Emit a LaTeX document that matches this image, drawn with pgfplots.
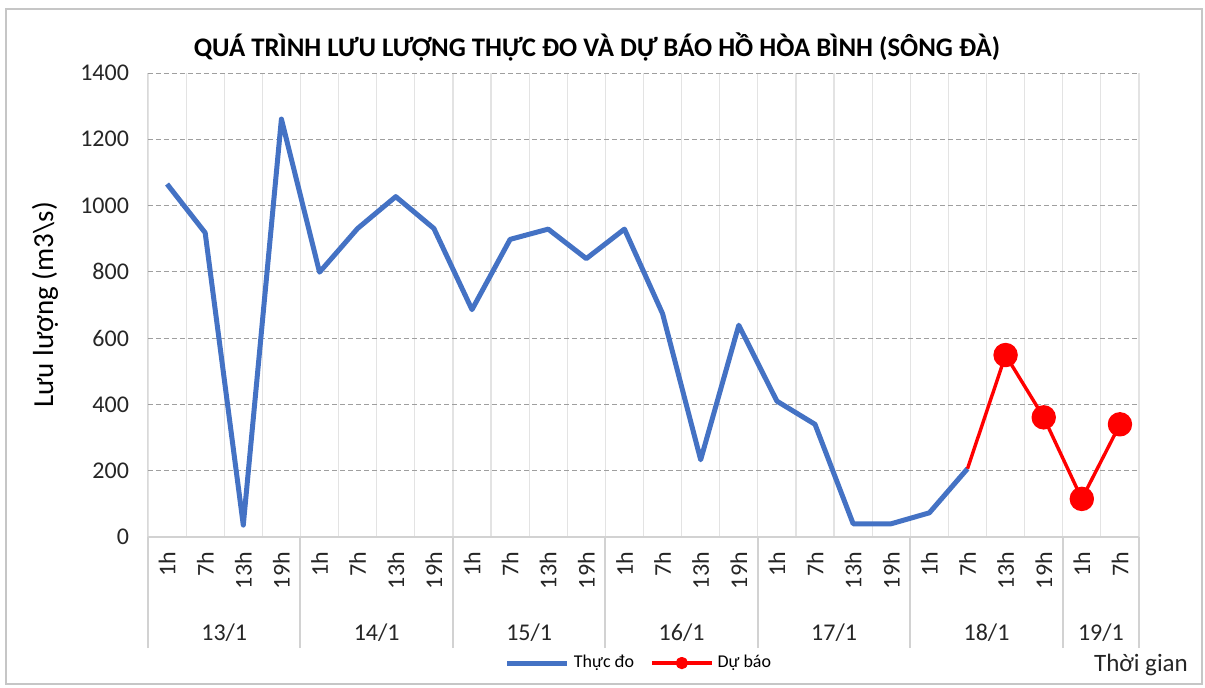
\documentclass[border=0pt]{standalone}
\usepackage{pgfplots}
\pgfplotsset{compat=1.18}
\usepackage{fontspec}
\setmainfont{Carlito}
\definecolor{exblue}{HTML}{4472C4}
\begin{document}
\begin{tikzpicture}
\useasboundingbox (-74pt,-75pt) rectangle (528.5pt,268.5pt);
\draw[gray!45, line width=1.2pt] (-71pt,-73.5pt) rectangle (527pt,264pt);
\begin{axis}[
  at={(0,0)}, anchor=south west,
  scale only axis, width=495.5pt, height=232pt,
  xmin=-0.5, xmax=25.5, ymin=0, ymax=1400,
  clip=false,
  axis lines*=left,
  x axis line style={gray!35, line width=1pt},
  y axis line style={gray!30, line width=0.5pt},
  xtick={0,...,25},
  xticklabels={1h,7h,13h,19h,1h,7h,13h,19h,1h,7h,13h,19h,1h,7h,13h,19h,1h,7h,13h,19h,1h,7h,13h,19h,1h,7h},
  minor xtick={-0.5,0.5,...,25.5},
  ytick={0,200,...,1400},
  major tick length=0pt, minor tick length=0pt,
  xminorgrids, minor x grid style={gray!22, line width=0.6pt},
  ymajorgrids, y grid style={gray!75, line width=0.5pt, dash pattern=on 2.5pt off 1.5pt},
  extra x ticks={-0.5,3.5,7.5,11.5,15.5,19.5,23.5,25.5},
  extra x tick labels={},
  extra x tick style={grid=none, major tick length=55.5pt, tick align=outside,
     tick style={draw=gray!35, line width=1pt}},
  /pgf/number format/1000 sep={},
  /pgf/number format/assume math mode=true,
  tick label style={font=\fontsize{12}{14}\selectfont, text=black!85},
  xticklabel style={rotate=90, anchor=east, xshift=0pt},
  xticklabel shift=4pt,
  yticklabel style={anchor=east},
  yticklabel shift=6pt,
  ylabel={Lưu lượng (m3\textbackslash s)},
  every axis y label/.style={at={(axis description cs:0,0.5)}, xshift=-51.5pt, rotate=90, anchor=center,
     font=\fontsize{14.5}{17}\selectfont, text=black},
  legend columns=2,
  legend cell align=left,
  legend style={at={(axis description cs:0.4965,-0.2716)}, anchor=center, draw=none, fill=none,
     font=\fontsize{9}{11}\selectfont,
     /tikz/every even column/.append style={column sep=6pt}},
  legend image code/.code={\draw[mark repeat=2,mark phase=2,#1,mark indices={2},mark size=2.2pt] plot coordinates {(0pt,0pt) (15pt,0pt) (30pt,0pt)};},
]
\addplot[exblue, line width=2.5pt, line join=round] coordinates {
(0,1065)(1,918)(2,36)(3,1261)(4,799)(5,931)(6,1027)(7,931)(8,686)(9,898)(10,929)(11,840)(12,929)(13,674)(14,233)(15,639)(16,410)(17,340)(18,40)(19,40)(20,73)(21,206)};
\addlegendentry{Thực đo}
\addplot[red, line width=1.7pt, line join=round, mark=*, mark size=5.25pt, mark indices={2,3,4,5}] coordinates {
(21,206)(22,549)(23,361)(24,115)(25,340)};
\addlegendentry{Dự báo}
\foreach \xx/\lab in {1.5/13\slash 1, 5.5/14\slash 1, 9.5/15\slash 1, 13.5/16\slash 1, 17.5/17\slash 1, 21.5/18\slash 1, 24.5/19\slash 1}{
  \edef\temp{\noexpand\node[font=\noexpand\fontsize{12}{14}\noexpand\selectfont, text=black!85] at (axis cs:\xx,0) [yshift=-48pt] {\lab};}
  \temp
}
\end{axis}
\node[font=\bfseries\fontsize{13.4}{16}\selectfont] at (224.5pt,245pt) {QUÁ TRÌNH LƯU LƯỢNG THỰC ĐO VÀ DỰ BÁO HỒ HÒA BÌNH (SÔNG ĐÀ)};
\node[font=\fontsize{12.5}{15}\selectfont, text=black!85] at (496.5pt,-64pt) {Thời gian};
\end{tikzpicture}
\end{document}
